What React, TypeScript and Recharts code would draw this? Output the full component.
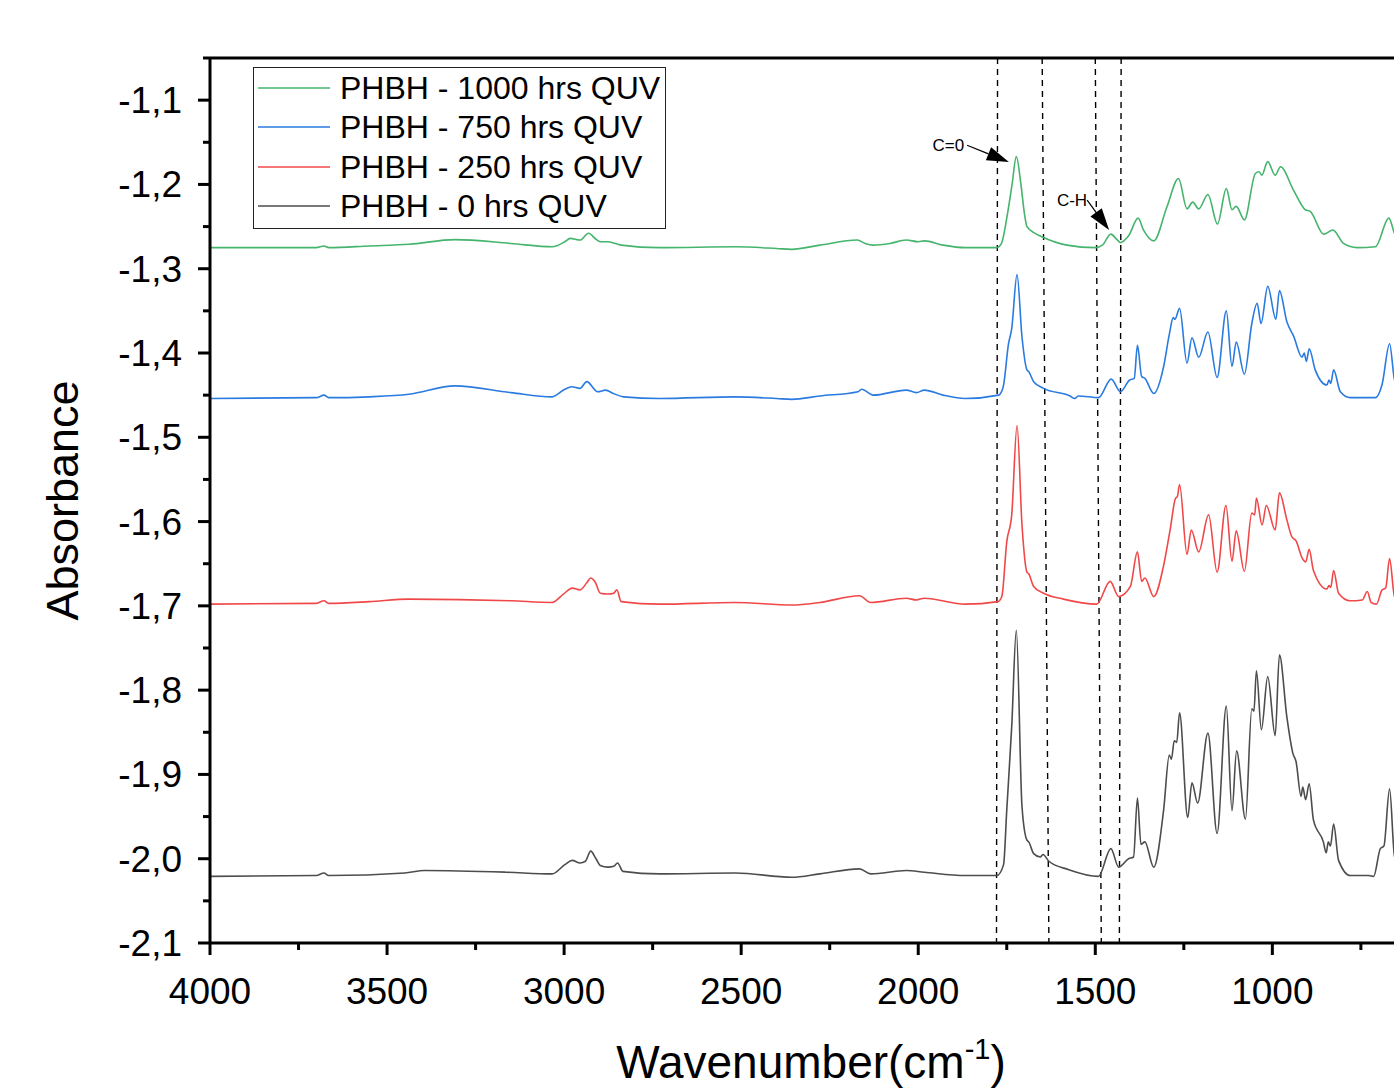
import {
  LineChart,
  Line,
  XAxis,
  YAxis,
  Legend,
  ReferenceLine,
  Label,
} from "recharts";

// wavenumber (cm-1) / absorbance pairs, high to low wavenumber
const wave1000 = [
  4000, 3700, 3678, 3665, 3550, 3438, 3308, 3150, 3034, 2998, 2983, 2955, 2931, 2910, 2898, 2876, 2839, 2731,
  2516, 2400, 2357, 2278, 2172, 2150, 2127, 2080, 2034, 2000, 1983, 1930, 1867, 1778, 1765, 1750, 1735, 1723,
  1710, 1700, 1693, 1670, 1651, 1580, 1500, 1480, 1456, 1440, 1429, 1406, 1379, 1364, 1335, 1298, 1265, 1241,
  1225, 1208, 1182, 1155, 1130, 1114, 1102, 1079, 1048, 1038, 1030, 1013, 992, 977, 940, 907, 893, 855, 829,
  799, 761, 709, 671, 655, 630, 600,
];
const abs1000 = [
  -1.275, -1.275, -1.273, -1.275, -1.273, -1.271, -1.2655, -1.27, -1.274, -1.268, -1.264, -1.266, -1.258, -1.265,
  -1.268, -1.268, -1.272, -1.275, -1.274, -1.276, -1.277, -1.272, -1.266, -1.27, -1.272, -1.27, -1.266, -1.268,
  -1.267, -1.272, -1.275, -1.275, -1.27, -1.24, -1.2, -1.167, -1.2, -1.235, -1.25, -1.258, -1.262, -1.272,
  -1.275, -1.272, -1.259, -1.265, -1.269, -1.261, -1.24, -1.254, -1.267, -1.227, -1.193, -1.229, -1.221, -1.229,
  -1.212, -1.247, -1.205, -1.23, -1.226, -1.242, -1.187, -1.185, -1.189, -1.173, -1.189, -1.179, -1.207, -1.23,
  -1.232, -1.259, -1.254, -1.27, -1.275, -1.274, -1.24, -1.258, -1.272, -1.275,
];

const wave750 = [
  4000, 3700, 3678, 3665, 3550, 3438, 3308, 3150, 3034, 2998, 2979, 2955, 2936, 2905, 2883, 2861, 2832, 2731,
  2516, 2400, 2357, 2278, 2170, 2160, 2127, 2034, 2005, 1983, 1930, 1867, 1773, 1760, 1745, 1736, 1721, 1707,
  1693, 1688, 1674, 1646, 1571, 1558, 1548, 1491, 1455, 1429, 1403, 1390, 1381, 1369, 1360, 1335, 1307, 1291,
  1280, 1275, 1262, 1241, 1227, 1208, 1182, 1156, 1130, 1114, 1102, 1079, 1058, 1043, 1032, 1013, 990, 980, 959,
  940, 916, 910, 904, 896, 879, 846, 840, 835, 827, 808, 780, 709, 690, 669, 655, 630, 600,
];
const abs750 = [
  -1.454, -1.453, -1.45, -1.453, -1.452, -1.449, -1.439, -1.447, -1.452, -1.443, -1.44, -1.442, -1.434, -1.446,
  -1.444, -1.448, -1.452, -1.454, -1.452, -1.454, -1.455, -1.451, -1.446, -1.443, -1.45, -1.444, -1.447, -1.444,
  -1.45, -1.454, -1.45, -1.44, -1.389, -1.371, -1.307, -1.381, -1.42, -1.422, -1.434, -1.442, -1.451, -1.454,
  -1.451, -1.453, -1.431, -1.446, -1.432, -1.43, -1.391, -1.428, -1.43, -1.448, -1.416, -1.378, -1.358, -1.36,
  -1.347, -1.412, -1.382, -1.405, -1.375, -1.429, -1.35, -1.416, -1.387, -1.425, -1.365, -1.341, -1.365, -1.321,
  -1.36, -1.326, -1.363, -1.38, -1.405, -1.4, -1.41, -1.395, -1.42, -1.438, -1.432, -1.436, -1.42, -1.446, -1.453,
  -1.453, -1.437, -1.389, -1.432, -1.45, -1.453,
];

const wave250 = [
  4000, 3700, 3678, 3665, 3550, 3438, 3150, 3034, 3002, 2977, 2955, 2935, 2925, 2912, 2898, 2876, 2860, 2851,
  2839, 2731, 2516, 2357, 2278, 2166, 2134, 2034, 2005, 1983, 1867, 1775, 1764, 1750, 1736, 1721, 1707, 1693,
  1688, 1674, 1646, 1590, 1496, 1458, 1434, 1401, 1381, 1369, 1360, 1335, 1307, 1288, 1274, 1268, 1262, 1241,
  1229, 1208, 1180, 1156, 1131, 1114, 1102, 1079, 1058, 1050, 1045, 1029, 1017, 992, 980, 959, 945, 933, 916,
  906, 896, 884, 846, 840, 835, 827, 813, 780, 746, 732, 721, 706, 690, 680, 669, 655, 630, 600,
];
const abs250 = [
  -1.698, -1.697, -1.694, -1.697, -1.695, -1.692, -1.694, -1.696, -1.686, -1.679, -1.681, -1.672, -1.667, -1.672,
  -1.685, -1.686, -1.685, -1.681, -1.695, -1.698, -1.696, -1.699, -1.696, -1.688, -1.696, -1.691, -1.693, -1.691,
  -1.698, -1.695, -1.689, -1.624, -1.592, -1.486, -1.604, -1.66, -1.662, -1.677, -1.685, -1.692, -1.698, -1.671,
  -1.689, -1.677, -1.636, -1.671, -1.667, -1.689, -1.652, -1.608, -1.573, -1.57, -1.556, -1.639, -1.61, -1.636,
  -1.592, -1.66, -1.581, -1.647, -1.611, -1.659, -1.59, -1.592, -1.572, -1.604, -1.581, -1.61, -1.566, -1.598,
  -1.618, -1.623, -1.643, -1.648, -1.633, -1.658, -1.68, -1.676, -1.678, -1.658, -1.685, -1.694, -1.693, -1.683,
  -1.696, -1.698, -1.681, -1.679, -1.644, -1.689, -1.697, -1.698,
];

const wave0 = [
  4000, 3700, 3678, 3665, 3450, 3394, 3164, 3034, 2998, 2977, 2955, 2940, 2925, 2910, 2898, 2876, 2860, 2849,
  2834, 2731, 2516, 2357, 2278, 2166, 2134, 2034, 1983, 1867, 1778, 1759, 1750, 1736, 1723, 1707, 1693, 1688,
  1674, 1655, 1648, 1631, 1575, 1491, 1456, 1434, 1406, 1392, 1381, 1371, 1360, 1335, 1307, 1291, 1285, 1277,
  1270, 1262, 1239, 1227, 1211, 1182, 1156, 1130, 1114, 1101, 1076, 1058, 1052, 1045, 1031, 1013, 992, 980, 959,
  942, 933, 919, 914, 906, 896, 884, 856, 848, 842, 836, 827, 813, 780, 728, 714, 695, 685, 669, 655, 630, 600,
];
const abs0 = [
  -2.021, -2.02, -2.017, -2.02, -2.017, -2.014, -2.016, -2.018, -2.007, -2.002, -2.005, -2.003, -1.991, -2.0,
  -2.008, -2.01, -2.009, -2.005, -2.015, -2.018, -2.017, -2.022, -2.018, -2.012, -2.018, -2.014, -2.016, -2.02,
  -2.02, -2.007, -1.942, -1.843, -1.729, -1.938, -1.978, -1.98, -1.994, -1.998, -1.995, -2.003, -2.013, -2.021,
  -1.988, -2.01, -2.0, -1.998, -1.928, -1.983, -1.98, -2.01, -1.942, -1.877, -1.882, -1.86, -1.862, -1.827,
  -1.951, -1.91, -1.934, -1.851, -1.97, -1.819, -1.943, -1.872, -1.953, -1.822, -1.825, -1.777, -1.847, -1.784,
  -1.854, -1.758, -1.832, -1.875, -1.885, -1.926, -1.915, -1.93, -1.911, -1.954, -1.98, -1.993, -1.98, -1.985,
  -1.959, -2.002, -2.02, -2.02, -2.021, -1.988, -1.985, -1.917, -1.997, -2.015, -2.02,
];

const seriesNames = ["PHBH - 1000 hrs QUV", "PHBH - 750 hrs QUV", "PHBH - 250 hrs QUV", "PHBH - 0 hrs QUV"];
const seriesColors = ["#45b46d", "#2a7be0", "#f04848", "#4d4d4d"];

const xTicks = [4000, 3750, 3500, 3250, 3000, 2750, 2500, 2250, 2000, 1750, 1500, 1250, 1000, 750];
const yTicks = [
  -2.1, -2.05, -2.0, -1.95, -1.9, -1.85, -1.8, -1.75, -1.7, -1.65, -1.6, -1.55, -1.5, -1.45, -1.4, -1.35, -1.3,
  -1.25, -1.2, -1.15, -1.1, -1.05,
];

// slanted dashed guide lines: [top wavenumber, bottom wavenumber]
const guideLines = [
  [1776, 1779],
  [1650, 1631],
  [1500, 1483],
  [1427, 1432],
];

const FONT = "'Liberation Sans', Arial, Helvetica, sans-serif";

const toPoints = (w: number[], a: number[]) => w.map((wn, i) => ({ wn, abs: a[i] }));
const seriesData = [toPoints(wave1000, abs1000), toPoints(wave750, abs750), toPoints(wave250, abs250), toPoints(wave0, abs0)];

const XTick = ({ x, y, payload }: any) => {
  const major = payload.value % 500 === 0;
  return (
    <g>
      <line x1={x} x2={x} y1={y} y2={y + (major ? 12 : 7)} stroke="#000" strokeWidth={3} />
      {major && (
        <text x={x} y={y + 61} textAnchor="middle" fontSize={37} fontFamily={FONT} fill="#000">
          {payload.value}
        </text>
      )}
    </g>
  );
};

const YTick = ({ x, y, payload }: any) => {
  const v = payload.value;
  const major = Math.abs(v * 10 - Math.round(v * 10)) < 1e-6;
  return (
    <g>
      <line x1={x - (major ? 12 : 7)} x2={x} y1={y} y2={y} stroke="#000" strokeWidth={3} />
      {major && (
        <text x={x - 28} y={y + 13} textAnchor="end" fontSize={37} fontFamily={FONT} fill="#000">
          {v.toFixed(1).replace(".", ",")}
        </text>
      )}
    </g>
  );
};

const arrowShape = (text: string, dx: number, dy: number) => (props: any) => {
  const { x1, y1, x2, y2 } = props;
  const ang = Math.atan2(y2 - y1, x2 - x1);
  const len = 22;
  const hw = 7;
  const bx = x2 - len * Math.cos(ang);
  const by = y2 - len * Math.sin(ang);
  const px = -Math.sin(ang) * hw;
  const py = Math.cos(ang) * hw;
  return (
    <g>
      <line x1={x1} y1={y1} x2={bx} y2={by} stroke="#000" strokeWidth={1.2} />
      <polygon points={`${x2},${y2} ${bx + px},${by + py} ${bx - px},${by - py}`} fill="#000" />
      <text x={x1 + dx} y={y1 + dy} textAnchor="end" fontSize={17} fontFamily={FONT} fill="#000">
        {text}
      </text>
    </g>
  );
};

const LegendBox = () => (
  <div
    style={{
      position: "relative",
      width: 411,
      height: 160,
      border: "1px solid #222",
      background: "#fff",
      fontFamily: FONT,
    }}
  >
    {seriesNames.map((name, i) => (
      <div
        key={name}
        style={{ position: "absolute", left: 4, top: i * 39.3, height: 40, display: "flex", alignItems: "center" }}
      >
        <svg width={74} height={4} style={{ display: "block" }}>
          <line x1={0} x2={72} y1={2} y2={2} stroke={seriesColors[i]} strokeWidth={1.6} />
        </svg>
        <span style={{ marginLeft: 8, fontSize: 32, color: "#000", whiteSpace: "nowrap", lineHeight: "40px" }}>{name}</span>
      </div>
    ))}
  </div>
);

export default function App() {
  return (
    <div style={{ position: "fixed", left: 0, top: 0, width: 1394, height: 1088, overflow: "hidden", background: "#fff" }}>
      <LineChart width={1422} height={1088} margin={{ top: 58, right: 8, left: 10, bottom: 0 }}>
        <XAxis
          type="number"
          dataKey="wn"
          domain={[600, 4000]}
          reversed
          ticks={xTicks}
          interval={0}
          tick={<XTick />}
          tickLine={false}
          tickSize={0}
          tickMargin={0}
          height={145}
          axisLine={{ stroke: "#000", strokeWidth: 3 }}
          allowDataOverflow
        >
          <Label
            content={({ viewBox }: any) => (
              <text
                x={811}
                y={viewBox.y + 135}
                textAnchor="middle"
                fontSize={46}
                fontFamily={FONT}
                fill="#000"
              >
                Wavenumber(cm
                <tspan dy={-19} fontSize={29}>
                  -1
                </tspan>
                <tspan dy={19}>)</tspan>
              </text>
            )}
          />
        </XAxis>
        <YAxis
          type="number"
          domain={[-2.1, -1.05]}
          ticks={yTicks}
          interval={0}
          tick={<YTick />}
          tickLine={false}
          tickSize={0}
          tickMargin={0}
          width={200}
          axisLine={{ stroke: "#000", strokeWidth: 3 }}
          allowDataOverflow
        >
          <Label
            content={({ viewBox }: any) => {
              const cy = viewBox.y + viewBox.height / 2;
              return (
                <text
                  x={62}
                  y={cy}
                  transform={`rotate(-90 62 ${cy})`}
                  textAnchor="middle"
                  dominantBaseline="central"
                  fontSize={45}
                  fontFamily={FONT}
                  fill="#000"
                >
                  Absorbance
                </text>
              );
            }}
          />
        </YAxis>
        <ReferenceLine y={-1.05} stroke="#000" strokeWidth={3} ifOverflow="extendDomain" />
        {guideLines.map(([top, bottom], i) => (
          <ReferenceLine
            key={i}
            segment={[
              { x: top, y: -1.05 },
              { x: bottom, y: -2.1 },
            ]}
            stroke="#000"
            strokeWidth={1.4}
            strokeDasharray="6 5"
          />
        ))}
        <ReferenceLine
          segment={[
            { x: 1862, y: -1.1535 },
            { x: 1744, y: -1.1735 },
          ]}
          shape={arrowShape("C=0", -3, 6)}
        />
        <ReferenceLine
          segment={[
            { x: 1523, y: -1.2186 },
            { x: 1461, y: -1.2542 },
          ]}
          shape={arrowShape("C-H", 0, 6)}
        />
        {seriesData.map((d, i) => (
          <Line
            key={seriesNames[i]}
            data={d}
            dataKey="abs"
            name={seriesNames[i]}
            type="monotone"
            stroke={seriesColors[i]}
            strokeWidth={1.6}
            dot={false}
            activeDot={false}
            isAnimationActive={false}
          />
        ))}
        <Legend
          verticalAlign="middle"
          align="center"
          layout="horizontal"
          content={() => <LegendBox />}
          wrapperStyle={{ left: 253, top: 67, width: 413, height: 162 }}
        />
      </LineChart>
    </div>
  );
}
